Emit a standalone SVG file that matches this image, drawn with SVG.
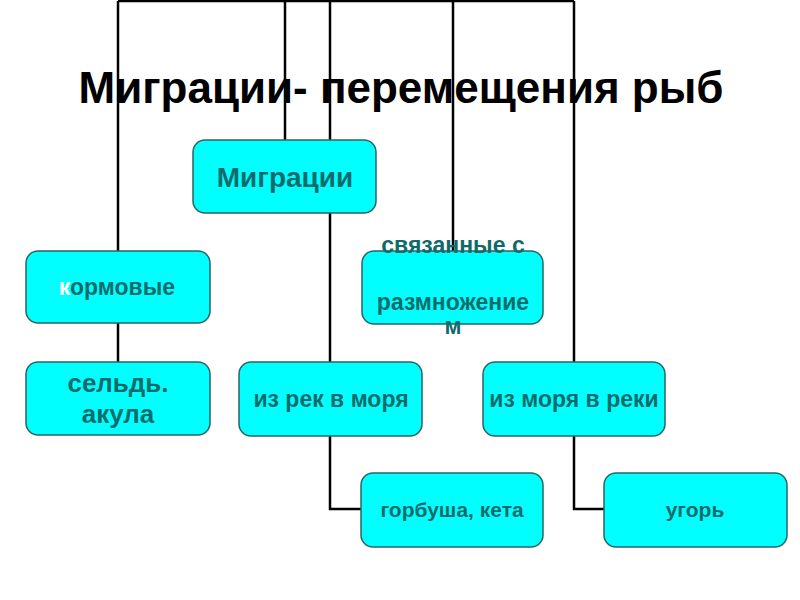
<svg xmlns="http://www.w3.org/2000/svg" width="800" height="600" viewBox="0 0 800 600">
<style>
.box{fill:#00FFFF;stroke:#2E6363;stroke-width:1.5}
.t{font-family:"Liberation Sans",Arial,sans-serif;font-weight:bold;fill:#0F6B6B;text-anchor:middle}
.c{fill:none;stroke:#000;stroke-width:2.5}
</style>
<rect width="800" height="600" fill="#fff"/>
<g id="connectors">
<path class="c" d="M118,1 H574"/>
<path class="c" d="M118,1 V251"/>
<path class="c" d="M118,323 V362"/>
<path class="c" d="M285,1 V140"/>
<path class="c" d="M330,1 V140"/>
<path class="c" d="M330,213 V362"/>
<path class="c" d="M330,436 V509 H361"/>
<path class="c" d="M453,1 V251"/>
<path class="c" d="M574,1 V362"/>
<path class="c" d="M574,436 V509 H604"/>
</g>
<text id="title" x="401" y="103" font-family="Liberation Sans, Arial, sans-serif" font-weight="bold" font-size="44" text-anchor="middle" fill="#000">Миграции- перемещения рыб</text>
<g id="n-migr">
<rect class="box" x="193" y="140" width="183" height="73" rx="12"/>
<text class="t" x="285" y="187" font-size="28">Миграции</text>
</g>
<g id="n-korm">
<rect class="box" x="26" y="251" width="184" height="72" rx="12"/>
<text class="t" x="117" y="295" font-size="23"><tspan fill="#fff">к</tspan>ормовые</text>
</g>
<g id="n-razm">
<rect class="box" x="362" y="251" width="181" height="73" rx="12"/>
<text class="t" x="453" y="253" font-size="23">связанные с</text>
<text class="t" x="453" y="310" font-size="23">размножение</text>
<text class="t" x="453" y="334" font-size="23">м</text>
</g>
<g id="n-seld">
<rect class="box" x="26" y="362" width="184" height="73" rx="12"/>
<text class="t" x="118" y="392" font-size="26">сельдь.</text>
<text class="t" x="118" y="423" font-size="26">акула</text>
</g>
<g id="n-rek">
<rect class="box" x="239" y="362" width="183" height="74" rx="12"/>
<text class="t" x="331" y="407" font-size="23">из рек в моря</text>
</g>
<g id="n-mor">
<rect class="box" x="483" y="362" width="182" height="74" rx="12"/>
<text class="t" x="574" y="407" font-size="23">из моря в реки</text>
</g>
<g id="n-gorb">
<rect class="box" x="361" y="473" width="182" height="74" rx="12"/>
<text class="t" x="452" y="517" font-size="21">горбуша, кета</text>
</g>
<g id="n-ugor">
<rect class="box" x="604" y="473" width="183" height="74" rx="12"/>
<text class="t" x="695" y="517" font-size="21">угорь</text>
</g>
</svg>
